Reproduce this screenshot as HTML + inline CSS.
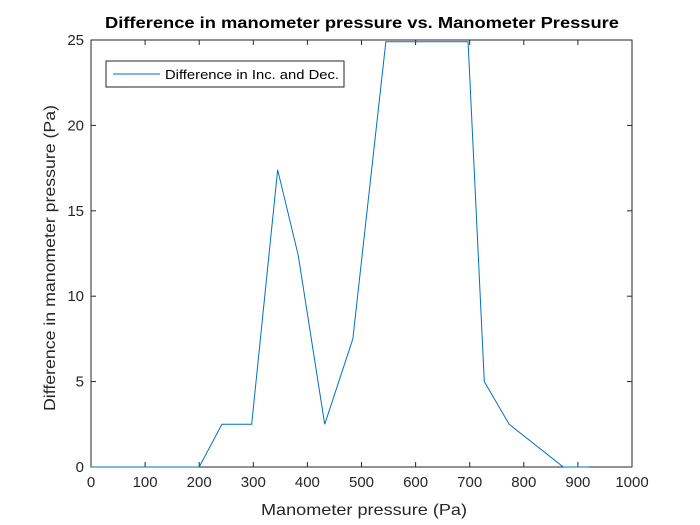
<!DOCTYPE html>
<html><head><meta charset="utf-8"><style>
body{margin:0;background:#fff;}
svg{display:block;font-family:"Liberation Sans",Arial,sans-serif;}
</style></head><body>
<svg id="chart" width="700" height="525">
<rect width="700" height="525" fill="#fff"/>
<g id="axes"></g>
<text x="362" y="28" text-anchor="middle" font-size="16" font-weight="bold" fill="#000" textLength="514" lengthAdjust="spacingAndGlyphs">Difference in manometer pressure vs. Manometer Pressure</text>
<text x="364" y="515" text-anchor="middle" font-size="16" fill="#262626" textLength="206" lengthAdjust="spacingAndGlyphs">Manometer pressure (Pa)</text>
<text transform="translate(55,258) rotate(-90)" text-anchor="middle" font-size="16" fill="#262626" textLength="306" lengthAdjust="spacingAndGlyphs">Difference in manometer pressure (Pa)</text>
<g>
<rect x="106" y="61" width="238" height="26" fill="#fff" stroke="#262626" stroke-width="1"/>
<line x1="113" y1="74" x2="160" y2="74" stroke="#0072BD" stroke-width="1"/>
<text x="165" y="79" font-size="13" fill="#000" textLength="174" lengthAdjust="spacingAndGlyphs">Difference in Inc. and Dec.</text>
</g>
</svg>
<script>
const xValues=[0,200,242,297,345,383,432,484,545,697,727,773,873,920];
const yValues=[0,0,2.5,2.5,17.4,12.4,2.5,7.5,24.9,24.9,5,2.5,0,0];
const xTicks=[0,100,200,300,400,500,600,700,800,900,1000];
const yTicks=[0,5,10,15,20,25];
const L=91,R=632,T=40,B=467;
const sx=v=>L+(v-0)/1000*(R-L);
const sy=v=>B-(v-0)/25*(B-T);
const ns="http://www.w3.org/2000/svg";
const g=document.getElementById('axes');
function mk(t,a){const e=document.createElementNS(ns,t);for(const k in a)e.setAttribute(k,a[k]);g.appendChild(e);return e;}
const box=mk('rect',{x:L,y:T,width:R-L,height:B-T,fill:'none',stroke:'#262626','stroke-width':1});


xTicks.forEach(v=>{const x=sx(v);
mk('line',{x1:x,y1:B,x2:x,y2:B-5,stroke:'#262626'});
mk('line',{x1:x,y1:T,x2:x,y2:T+5,stroke:'#262626'});
const t=mk('text',{x:x,y:B+20,'text-anchor':'middle','font-size':15,fill:'#262626'});t.textContent=v;

});
yTicks.forEach(v=>{const y=sy(v);
mk('line',{x1:L,y1:y,x2:L+5,y2:y,stroke:'#262626'});
mk('line',{x1:R,y1:y,x2:R-5,y2:y,stroke:'#262626'});
const t=mk('text',{x:L-7,y:y+5,'text-anchor':'end','font-size':15,fill:'#262626'});t.textContent=v;

});
const p=mk('polyline',{points:xValues.map((x,i)=>sx(x)+','+sy(yValues[i])).join(' '),fill:'none',stroke:'#0072BD','stroke-width':1});


</script>
</body></html>
